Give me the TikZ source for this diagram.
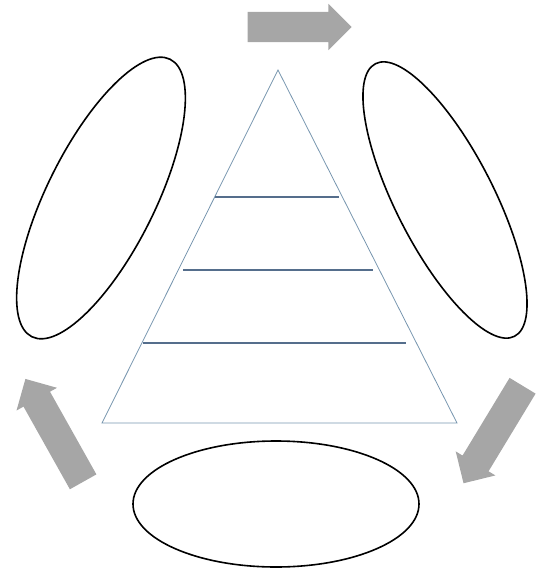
\documentclass[tikz,border=0pt]{standalone}
\usetikzlibrary{shapes.arrows}
\definecolor{arrgray}{RGB}{166,166,166}
\definecolor{triblue}{RGB}{120,150,175}
\definecolor{levelblue}{RGB}{85,110,140}
\begin{document}
\begin{tikzpicture}[x=1pt,y=-1pt,
  bigarrow/.style={single arrow, fill=arrgray, draw=none, inner xsep=0pt, inner ysep=15pt,
    single arrow head extend=8pt, single arrow tip angle=90,
    single arrow head indent=0pt},
  oval/.style={draw=black, line width=1.6pt},
  level/.style={draw=levelblue, line width=2.2pt},
  tri/.style={draw=triblue, line width=0.8pt}]
\useasboundingbox (0,0) rectangle (539,574);
% triangle
\coordinate (apex) at (278,70);
\coordinate (bl) at (102,423);
\coordinate (br) at (457,423);
\draw[tri] (apex) -- (bl) -- (br) -- cycle;
% level lines
\coordinate (l1a) at (215,197); \coordinate (l1b) at (339,197);
\coordinate (l2a) at (183,270); \coordinate (l2b) at (373,270);
\coordinate (l3a) at (143,343); \coordinate (l3b) at (406,343);
\draw[level] (l1a) -- (l1b);
\draw[level] (l2a) -- (l2b);
\draw[level] (l3a) -- (l3b);
% ellipses
\draw[oval] (101,198) ellipse [x radius=155, y radius=54, rotate=63.5];
\draw[oval] (445,200) ellipse [x radius=153, y radius=49, rotate=-63];
\draw[oval] (276,504) ellipse [x radius=143, y radius=63];
% arrows
\node[bigarrow, minimum height=104pt] (atop) at (292,27) {};
\node[bigarrow, minimum height=118pt, rotate=119.3] (aleft) at (58,437) {};
\node[bigarrow, minimum height=114pt, rotate=238.8] (aright) at (497,428) {};
\end{tikzpicture}
\end{document}
